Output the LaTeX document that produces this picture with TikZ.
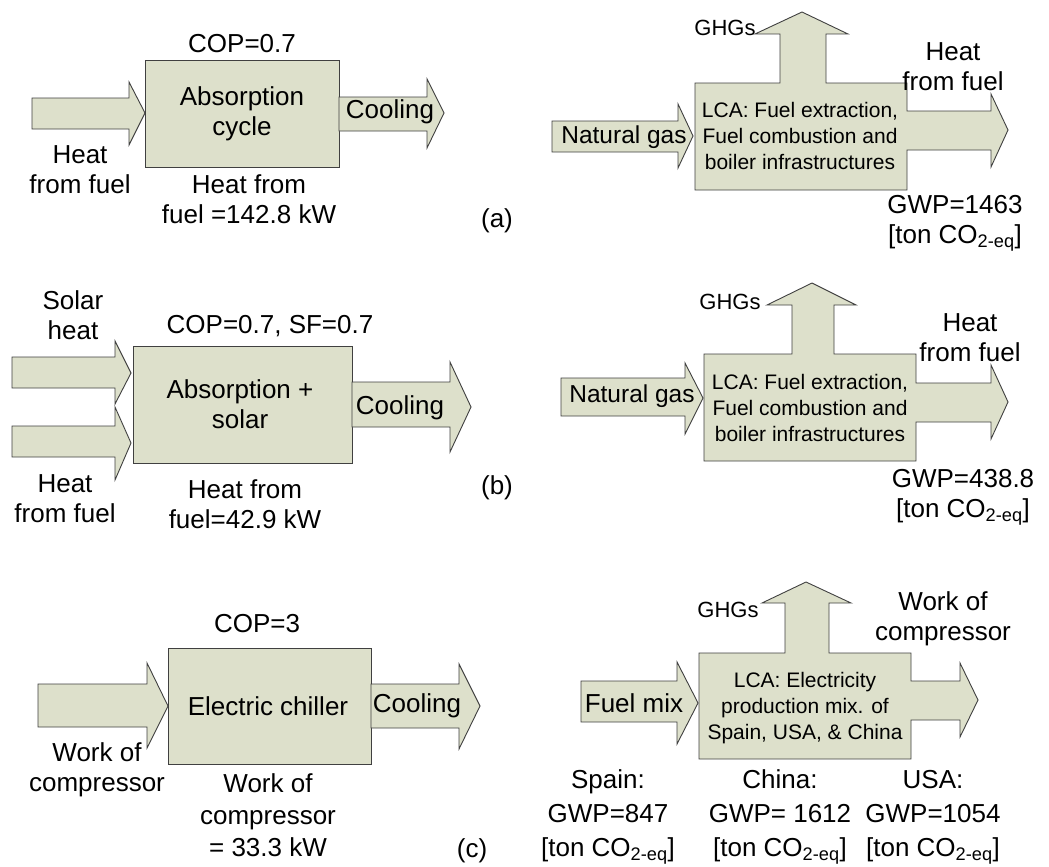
\documentclass[tikz,border=0pt]{standalone}
\usepackage{fontspec}
\setmainfont{Liberation Sans}
\newcommand\coeq{CO\textsubscript{2-eq}}
\newcommand\barrow[8]{\draw[blk] (#1,#4) -- (#2,#4) -- (#2,#6) -- (#3,#8) -- (#2,#7) -- (#2,#5) -- (#1,#5) -- cycle;}
\begin{document}
\begin{tikzpicture}[x=1pt,y=-1pt,
  blk/.style={fill=boxfill,draw=black!75,line width=0.9pt,line join=miter},
  txt/.style={inner sep=0pt,align=center,font=\fontsize{26}{30}\selectfont},
  lca/.style={inner sep=0pt,align=center,font=\fontsize{21}{26}\selectfont},
  ghg/.style={inner sep=0pt,font=\fontsize{22}{26}\selectfont},
  gwp/.style={inner sep=0pt,align=center,font=\fontsize{26}{34}\selectfont}]
\definecolor{boxfill}{HTML}{DDE0CB}
\useasboundingbox (0,0) rectangle (1049,867);
\fill[white] (0,0) rectangle (1049,867);

% ---------------- (a) left
\barrow{32}{129}{145}{98}{129}{82}{145}{113}
\draw[blk] (145,60) rectangle (339,167);
\barrow{339}{427}{444}{97}{131}{79}{148}{113}
\node[txt] (copa) at (242,44) {COP=0.7};
\node[txt] (absa) at (242,114) {Absorption\\cycle};
\node[txt] (coola) at (390,112) {Cooling};
\node[txt] (hfa) at (80,170) {Heat\\from fuel};
\node[txt] (hfqa) at (249,199) {Heat from\\fuel =142.8 kW};
\node[txt] (la) at (497,221) {(a)};

% ---------------- (a) right
\barrow{552}{678}{693}{121}{152}{104}{168}{136}
\draw[blk] (695,83) -- (780,83) -- (780,34) -- (755,34) -- (802,12) -- (848,34) -- (826,34) -- (826,83)
  -- (907,83) -- (907,111) -- (991,111) -- (991,94) -- (1008,130) -- (991,167) -- (991,150) -- (907,150)
  -- (907,190) -- (695,190) -- cycle;
\node[ghg] (ghga) at (725,28) {GHGs};
\node[txt] (hfra) at (953,67) {Heat\\from fuel};
\node[txt,font=\fontsize{24.5}{30}\selectfont] (nga) at (624,137) {Natural gas};
\node[lca] (lcaa) at (800,136) {LCA: Fuel extraction,\\Fuel combustion and\\boiler infrastructures};
\node[txt] (gwpa) at (955,223) {GWP=1463\\{}[ton \coeq]};

% ---------------- (b) left
\barrow{12}{115}{131}{357}{388}{341}{404}{373}
\barrow{12}{115}{131}{426}{457}{407}{480}{443}
\draw[blk] (133,346) rectangle (352,463);
\barrow{352}{450}{471}{382}{427}{362}{452}{407}
\node[txt] (solb) at (73,315) {Solar\\heat};
\node[txt] (copb) at (270,326) {COP=0.7, SF=0.7};
\node[txt] (absb) at (240,404) {Absorption +\\solar};
\node[txt] (coolb) at (400,408) {Cooling};
\node[txt] (hfb) at (65,499) {Heat\\from fuel};
\node[txt] (hfqb) at (245,504) {Heat from\\fuel=42.9 kW};
\node[txt] (lb) at (497,488) {(b)};

% ---------------- (b) right
\barrow{561}{685}{703}{378}{416}{363}{434}{398}
\draw[blk] (704,354) -- (792,354) -- (792,305) -- (767,305) -- (812,283) -- (856,305) -- (834,305) -- (834,354)
  -- (916,354) -- (916,383) -- (991,383) -- (991,365) -- (1008,402) -- (991,439) -- (991,422) -- (916,422)
  -- (916,461) -- (704,461) -- cycle;
\node[ghg] (ghgb) at (730,302) {GHGs};
\node[txt] (hfrb) at (970,338) {Heat\\from fuel};
\node[txt,font=\fontsize{24.5}{30}\selectfont] (ngb) at (632,396) {Natural gas};
\node[lca] (lcab) at (810,408) {LCA: Fuel extraction,\\Fuel combustion and\\boiler infrastructures};
\node[txt] (gwpb) at (963,497) {GWP=438.8\\{}[ton \coeq]};

% ---------------- (c) left
\barrow{38}{147}{168}{684}{727}{663}{748}{706}
\draw[blk] (168,648) rectangle (371,764);
\barrow{371}{459}{480}{684}{728}{664}{749}{706}
\node[txt] (copc) at (257,624) {COP=3};
\node[txt] (echc) at (268,706) {Electric chiller};
\node[txt] (coolc) at (417,706) {Cooling};
\node[txt] (wcc) at (97,770) {Work of\\compressor};
\node[txt,font=\fontsize{26}{32}\selectfont] (wcqc) at (268,815) {Work of\\compressor\\= 33.3 kW};
\node[txt] (lc) at (472,851) {(c)};

% ---------------- (c) right
\barrow{581}{677}{698}{681}{722}{662}{744}{703}
\draw[blk] (699,653) -- (785,653) -- (785,603) -- (762,603) -- (806,582) -- (851,603) -- (829,603) -- (829,653)
  -- (911,653) -- (911,681) -- (960,681) -- (960,663) -- (978,700) -- (960,737) -- (960,720) -- (911,720)
  -- (911,759) -- (699,759) -- cycle;
\node[ghg] (ghgc) at (728,610) {GHGs};
\node[txt] (wcrc) at (943,619) {Work of\\compressor};
\node[txt] (fmc) at (634,703) {Fuel mix};
\node[lca] (lcac) at (805,708) {LCA: Electricity\\production mix. of\\Spain, USA, \& China};
\node[gwp] (spain) at (608,817) {Spain:\\GWP=847\\{}[ton \coeq]};
\node[gwp] (china) at (780,817) {China:\\GWP= 1612\\{}[ton \coeq]};
\node[gwp] (usa) at (933,817) {USA:\\GWP=1054\\{}[ton \coeq]};
\end{tikzpicture}
\end{document}
